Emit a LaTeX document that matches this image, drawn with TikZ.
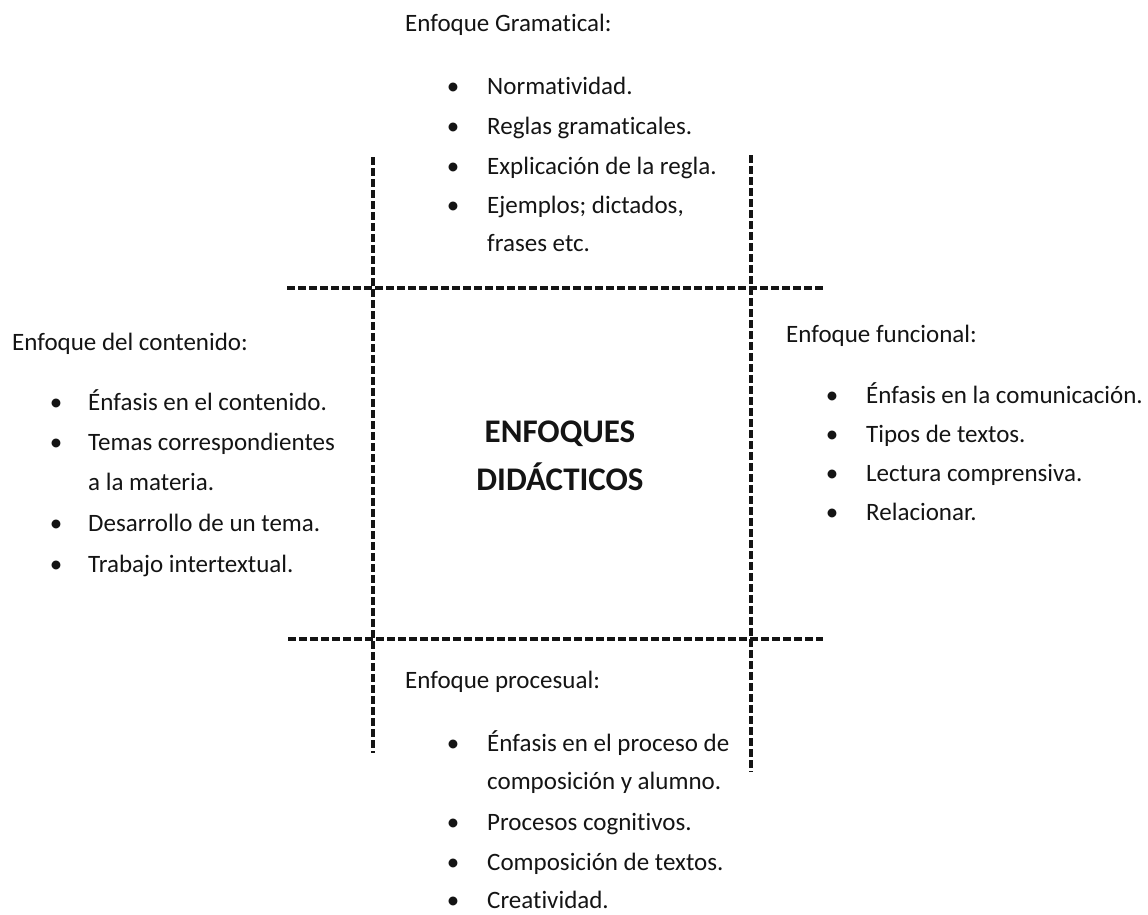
\documentclass[tikz,border=0pt]{standalone}
\usepackage{fontspec}
\setmainfont{Carlito}[Ligatures={NoCommon,NoContextual}]
\usepackage{tikz}
\newcommand{\textocolor}{black!92}

\begin{document}
\begin{tikzpicture}[x=1pt, y=-1pt,
	rotulo/.style={anchor=base west, inner sep=0pt, font=\fontsize{25}{30}\selectfont, text=\textocolor},
	vineta/.style={anchor=base, inner sep=0pt, font=\fontsize{25}{30}\selectfont, text=\textocolor},
	titulo/.style={anchor=base, inner sep=0pt, font=\bfseries\fontsize{33}{40}\selectfont, text=\textocolor},
	corte/.style={line width=3.5pt, dash pattern=on 7.5pt off 3.5pt, color=\textocolor}]
		\useasboundingbox (0,0) rectangle (1148,915);
		% dashed cross
		\draw[corte] (373,157) -- (373,753);
		\draw[corte] (751,155) -- (751,772);
		\draw[corte] (287,288) -- (823,288);
		\draw[corte] (288,639) -- (823,639);
		
		\node[titulo] (tit1) at (560,442) {ENFOQUES};
		\node[titulo] (tit2) at (560,490) {DIDÁCTICOS};
		
		% arriba
		\node[rotulo] (gram) at (405,32) {Enfoque Gramatical:};
		\foreach \y/\t/\b [count=\i] in {95/Normatividad./1, 135/Reglas gramaticales./1, 175/Explicación de la regla./1, 213/{Ejemplos; dictados,}/1, 251/frases etc./0}{
			\node[rotulo] (gram-\i) at (487,\y) {\t};
			\ifnum\b=1 \node[vineta] (gram-b\i) at (453,\y) {•}; \fi
		}
		
		% izquierda
		\node[rotulo] (cont) at (12,350) {Enfoque del contenido:};
		\foreach \y/\t/\b [count=\i] in {410/Énfasis en el contenido./1, 450/Temas correspondientes/1, 490/a la materia./0, 531/Desarrollo de un tema./1, 572/Trabajo intertextual./1}{
			\node[rotulo] (cont-\i) at (88,\y) {\t};
			\ifnum\b=1 \node[vineta] (cont-b\i) at (56,\y) {•}; \fi
		}
		
		% derecha
		\node[rotulo] (func) at (786,342) {Enfoque funcional:};
		\foreach \y/\t/\b [count=\i] in {403/Énfasis en la comunicación./1, 442/Tipos de textos./1, 481/Lectura comprensiva./1, 520/Relacionar./1}{
			\node[rotulo] (func-\i) at (866,\y) {\t};
			\ifnum\b=1 \node[vineta] (func-b\i) at (832,\y) {•}; \fi
		}
		
		% abajo
		\node[rotulo] (proc) at (405,688) {Enfoque procesual:};
		\foreach \y/\t/\b [count=\i] in {751/Énfasis en el proceso de/1, 789/composición y alumno./0, 830/Procesos cognitivos./1, 870/Composición de textos./1, 908/Creatividad./1}{
			\node[rotulo] (proc-\i) at (487,\y) {\t};
			\ifnum\b=1 \node[vineta] (proc-b\i) at (453,\y) {•}; \fi
		}
	\end{tikzpicture}
\end{document}
